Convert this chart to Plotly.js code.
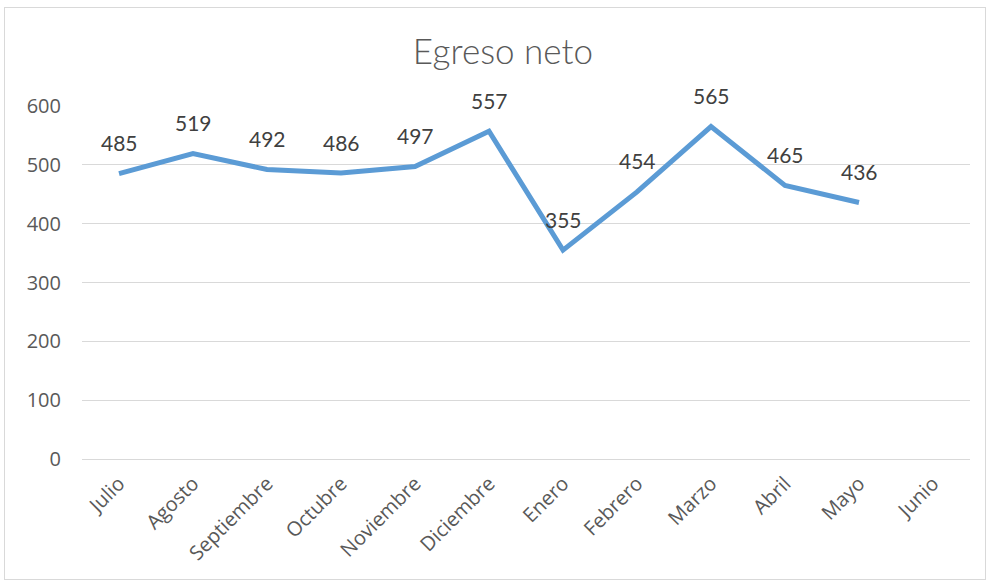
<!DOCTYPE html>
<html>
<head>
<meta charset="utf-8">
<script src="https://cdn.plot.ly/plotly-3.0.1.min.js"></script>
<style>
  html, body { margin: 0; padding: 0; background: #ffffff; }
  #wrap { position: relative; width: 990px; height: 586px; }
  #chart { width: 990px; height: 586px; }
  #frame { position: absolute; left: 4px; top: 7px; width: 980px; height: 571px; border: 1px solid #d9d9d9; pointer-events: none; }
</style>
</head>
<body>
<div id="wrap">
  <div id="chart"></div>
  <div id="frame"></div>
</div>
<script>
const months = ["Julio", "Agosto", "Septiembre", "Octubre", "Noviembre", "Diciembre", "Enero", "Febrero", "Marzo", "Abril", "Mayo", "Junio"];
const monthsWithData = ["Julio", "Agosto", "Septiembre", "Octubre", "Noviembre", "Diciembre", "Enero", "Febrero", "Marzo", "Abril", "Mayo"];
const egresoNeto = [485, 519, 492, 486, 497, 557, 355, 454, 565, 465, 436];
const yTicks = [0, 100, 200, 300, 400, 500, 600];

const trace = {
  type: "scatter",
  mode: "lines",
  x: monthsWithData,
  y: egresoNeto,
  line: { color: "#5B9BD5", width: 5, shape: "linear" },
  hoverinfo: "x+y",
  showlegend: false
};

const annotations = monthsWithData.map((m, i) => ({
  x: m,
  y: egresoNeto[i],
  xref: "x",
  yref: "y",
  text: String(egresoNeto[i]),
  showarrow: false,
  yshift: 31,
  font: { family: "Lato, sans-serif", size: 21, color: "#404040" }
}));

const layout = {
  width: 990,
  height: 586,
  margin: { l: 82, r: 20, t: 106, b: 127 },
  paper_bgcolor: "#ffffff",
  plot_bgcolor: "#ffffff",
  title: {
    text: "Egreso neto",
    x: 0.508,
    xanchor: "center",
    y: 0.912,
    yanchor: "middle",
    font: { family: "Lato, sans-serif", size: 35, color: "#595959", weight: 300 }
  },
  xaxis: {
    type: "category",
    categoryorder: "array",
    categoryarray: months,
    tickvals: months,
    range: [-0.5, 11.5],
    tickangle: -45,
    showgrid: false,
    showline: false,
    zeroline: false,
    ticks: "",
    ticklabelstandoff: 8,
    tickfont: { family: "Open Sans, sans-serif", size: 20, color: "#595959" },
    fixedrange: true
  },
  yaxis: {
    range: [0, 600],
    tickvals: yTicks,
    showgrid: true,
    gridcolor: "#d9d9d9",
    gridwidth: 1,
    zeroline: true,
    zerolinecolor: "#d9d9d9",
    zerolinewidth: 1,
    showline: false,
    ticks: "",
    ticklabelstandoff: 20,
    tickfont: { family: "Open Sans, sans-serif", size: 20, color: "#595959" },
    fixedrange: true
  },
  annotations: annotations
};

Plotly.newPlot("chart", [trace], layout, { displayModeBar: false, staticPlot: false });
</script>
</body>
</html>
